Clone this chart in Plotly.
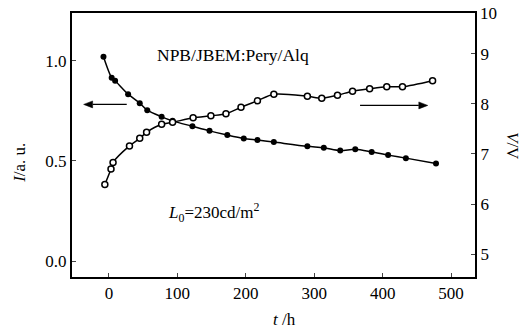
import plotly.graph_objects as go

# Data
t_I = [-8, 4, 9, 28, 45, 56, 77, 93, 122, 147, 173, 197, 217, 241, 290, 314, 338, 360, 384, 408, 434, 478]
I_vals = [1.02, 0.915, 0.90, 0.833, 0.788, 0.753, 0.72, 0.70, 0.673, 0.65, 0.629, 0.612, 0.604, 0.594,
          0.573, 0.566, 0.552, 0.558, 0.545, 0.529, 0.514, 0.487]

t_V = [-6, 3, 6, 30, 45, 55, 77, 93, 123, 149, 171, 193, 217, 241, 290, 311, 334, 356, 381, 406, 429, 473]
V_vals = [6.39, 6.70, 6.83, 7.16, 7.31, 7.43, 7.59, 7.63, 7.72, 7.76, 7.80, 7.93, 8.06, 8.19,
          8.15, 8.11, 8.17, 8.25, 8.30, 8.34, 8.34, 8.46]

x_ticks = [0, 100, 200, 300, 400, 500]
y_ticks = [0.0, 0.5, 1.0]
y_ticktext = ["0.0", "0.5", "1.0"]
y2_ticks = [5, 6, 7, 8, 9]

FONT = "Liberation Serif"
X_RANGE = [-54, 535]
Y_RANGE = [-0.079, 1.238]
PX_PER_X = 403 / (X_RANGE[1] - X_RANGE[0])
PX_PER_Y = 266 / (Y_RANGE[1] - Y_RANGE[0])

fig = go.Figure()
fig.add_trace(go.Scatter(
    x=t_I, y=I_vals, mode="lines+markers", yaxis="y",
    line=dict(color="black", width=1.5, shape="spline", smoothing=0.8),
    marker=dict(symbol="circle", size=6, color="black"),
    showlegend=False))
fig.add_trace(go.Scatter(
    x=t_V, y=V_vals, mode="lines+markers", yaxis="y2",
    line=dict(color="black", width=1.5, shape="spline", smoothing=0.8),
    marker=dict(symbol="circle", size=6, color="white", line=dict(color="black", width=1.5)),
    showlegend=False))

fig.update_layout(
    width=529, height=332,
    margin=dict(l=72, r=54, t=11, b=55),
    paper_bgcolor="white", plot_bgcolor="white",
    font=dict(family=FONT, size=17, color="black"),
    xaxis=dict(range=X_RANGE, tickvals=x_ticks, ticks="inside", ticklen=4, tickwidth=1,
               showline=True, linewidth=2, linecolor="black", mirror=True,
               showgrid=False, zeroline=False, tickfont=dict(size=17)),
    yaxis=dict(range=Y_RANGE, tickvals=y_ticks, ticktext=y_ticktext, ticks="inside",
               ticklen=4, tickwidth=1, showline=True, linewidth=2, linecolor="black",
               showgrid=False, zeroline=False, tickfont=dict(size=17)),
    yaxis2=dict(range=[4.545, 9.81], tickvals=y2_ticks, ticks="inside", ticklen=4, tickwidth=1,
                overlaying="y", side="right", showline=True, linewidth=2, linecolor="black",
                showgrid=False, zeroline=False, tickfont=dict(size=17)),
)

annotations = [
    dict(text="NPB/JBEM:Pery/Alq", x=(155 - 72) / 403, y=(277 - 53) / 266, xref="paper", yref="paper",
         xanchor="left", yanchor="middle", showarrow=False, font=dict(size=17.5)),
    dict(text="<i>L</i><sub>0</sub>=230cd/m<sup>2</sup>", x=(166 - 72) / 403, y=(277 - 212) / 266,
         xref="paper", yref="paper", xanchor="left", yanchor="middle", showarrow=False, font=dict(size=17)),
    dict(text="<i>I</i>/a. u.", x=(20 - 72) / 403, y=(277 - 162) / 266, xref="paper", yref="paper",
         textangle=-90, xanchor="center", yanchor="middle", showarrow=False, font=dict(size=17)),
    dict(text="<i>V</i>/V", x=(512 - 72) / 403, y=(277 - 145) / 266, xref="paper", yref="paper",
         textangle=90, xanchor="center", yanchor="middle", showarrow=False, font=dict(size=17)),
    dict(text="<i>t</i> /h", x=(284 - 72) / 403, y=(277 - 320) / 266, xref="paper", yref="paper",
         xanchor="center", yanchor="middle", showarrow=False, font=dict(size=17)),
    dict(text="10", x=(478 - 72) / 403, y=(277 - 11) / 266, xref="paper", yref="paper",
         xanchor="left", yanchor="middle", showarrow=False, font=dict(size=17)),
]
fig.update_layout(annotations=annotations)

# Arrows drawn as shapes (line + triangular head)
def arrow(x_tail, x_head, y):
    direction = 1 if x_head > x_tail else -1
    head_len = 9 / PX_PER_X
    half_w = 3.5 / PX_PER_Y
    base = x_head - direction * head_len
    fig.add_shape(type="line", x0=x_tail, x1=base, y0=y, y1=y, xref="x", yref="y",
                  line=dict(color="black", width=1.3))
    fig.add_shape(type="path", xref="x", yref="y",
                  path=f"M {x_head} {y} L {base} {y + half_w} L {base} {y - half_w} Z",
                  fillcolor="black", line=dict(color="black", width=0.5))

arrow(26, -37, 0.782)
arrow(367, 466, 0.777)

fig.write_html("out.html")
